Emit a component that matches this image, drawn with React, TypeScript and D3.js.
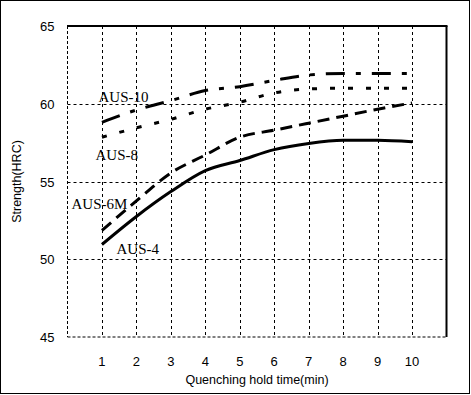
import React from "react";
import { scaleLinear, line, curveMonotoneX, range } from "d3";

const holdTime = [1, 2, 3, 4, 5, 6, 7, 8, 9, 10];
const aus10 = [58.8, 59.6, 60.2, 60.85, 61.1, 61.5, 61.85, 61.95, 61.95, 61.95];
const aus8 = [57.85, 58.45, 59.0, 59.65, 60.1, 60.7, 60.95, 61.0, 61.0, 61.0];
const aus6m = [51.85, 53.75, 55.55, 56.7, 57.85, 58.3, 58.75, 59.2, 59.65, 60.05];
const aus4 = [50.95, 52.75, 54.35, 55.7, 56.35, 57.05, 57.45, 57.65, 57.65, 57.55];
const yTicks = [45, 50, 55, 60, 65];
const xTicks = [1, 2, 3, 4, 5, 6, 7, 8, 9, 10];

const width = 471;
const height = 395;
const plot = { left: 67.5, right: 446.5, top: 26, bottom: 337 };

const x = scaleLinear().domain([0, 11]).range([plot.left, plot.right]);
const y = scaleLinear().domain([45, 65]).range([plot.bottom, plot.top]);

const series = [
  { name: "AUS-10", values: aus10, dash: "19 11 5 11", label: [98.5, 101.5] },
  { name: "AUS-8", values: aus8, dash: "5 13", label: [95.5, 160] },
  { name: "AUS-6M", values: aus6m, dash: "12 7", label: [71.5, 208.5] },
  { name: "AUS-4", values: aus4, dash: undefined, label: [116.5, 253.5] },
];

const shape = line<number>()
  .x((_, i) => x(holdTime[i]))
  .y((d) => y(d))
  .curve(curveMonotoneX);

export default function App() {
  const grid = "#000";
  return (
    <svg
      width={width}
      height={height}
      viewBox={`0 0 ${width} ${height}`}
      style={{ position: "absolute", left: 0, top: 0, background: "white" }}
    >
      <rect x={0.5} y={0.5} width={469} height={393} fill="white" stroke="black" />

      {/* grid */}
      {xTicks.map((t) => (
        <line
          key={"gx" + t}
          x1={Math.round(x(t)) + 0.5}
          x2={Math.round(x(t)) + 0.5}
          y1={plot.top}
          y2={plot.bottom}
          stroke={grid}
          strokeDasharray="3 3"
        />
      ))}
      {[50, 55, 60].map((t) => (
        <line
          key={"gy" + t}
          x1={plot.left}
          x2={plot.right}
          y1={Math.round(y(t)) + 0.5}
          y2={Math.round(y(t)) + 0.5}
          stroke={grid}
          strokeDasharray="3 3"
        />
      ))}
      {/* frame: dashed left/bottom, solid heavy top/right */}
      <line x1={plot.left} x2={plot.left} y1={plot.top} y2={plot.bottom} stroke="black" strokeDasharray="3 2" />
      <line x1={plot.left} x2={plot.right} y1={plot.bottom} y2={plot.bottom} stroke="black" strokeDasharray="3 2" />
      <line x1={plot.left - 0.5} x2={plot.right + 1} y1={plot.top} y2={plot.top} stroke="black" strokeWidth={2} />
      <line x1={plot.right} x2={plot.right} y1={plot.top} y2={plot.bottom} stroke="black" strokeWidth={2} />

      {/* ticks */}
      <g fontFamily="'Liberation Sans', Arial, sans-serif" fontSize={13} fill="black">
        {yTicks.map((t) => (
          <text key={"ty" + t} x={54.5} y={y(t) + 5} textAnchor="end">
            {t}
          </text>
        ))}
        {xTicks.map((t) => (
          <text key={"tx" + t} x={x(t)} y={365.5} textAnchor="middle">
            {t}
          </text>
        ))}
      </g>
      <g fontFamily="'Liberation Sans', Arial, sans-serif" fontSize={12.5} fill="black">
        <text x={(plot.left + plot.right) / 2} y={384} textAnchor="middle">
          Quenching hold time(min)
        </text>
        <text transform={`translate(21,${(plot.top + plot.bottom) / 2}) rotate(-90)`} textAnchor="middle">
          Strength(HRC)
        </text>
      </g>

      {/* series */}
      {series.map((s) => (
        <path
          key={s.name}
          d={shape(s.values) ?? ""}
          fill="none"
          stroke="black"
          strokeWidth={3}
          strokeDasharray={s.dash}
        />
      ))}
      <g fontFamily="'Liberation Serif', 'Times New Roman', serif" fontSize={15} fill="black">
        {series.map((s) => (
          <text key={"l" + s.name} x={s.label[0]} y={s.label[1]}>
            {s.name}
          </text>
        ))}
      </g>
    </svg>
  );
}
